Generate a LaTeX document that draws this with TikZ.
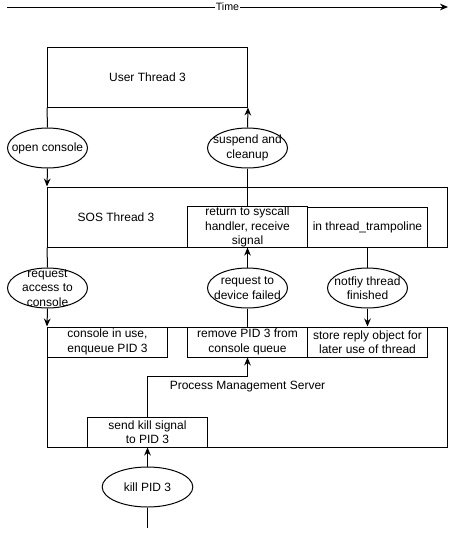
\documentclass[tikz,border=0pt]{standalone}
\usepackage{fontspec}
\setmainfont{Liberation Sans}
\usetikzlibrary{
    shapes.geometric,
    arrows.meta,
    positioning,
}
\tikzset{
    lbl/.style={font=\fontsize{9}{10.9}\selectfont, align=center},
    block/.style={draw, fill=white, line width=0.75pt, inner sep=0pt, lbl},
    bubble/.style={ellipse, draw, fill=white, line width=0.75pt, inner sep=0pt, minimum width=60pt, minimum height=30pt},
    link/.style={line width=0.75pt},
    flow/.style={line width=0.75pt, -{Stealth[length=6pt, width=5pt]}},
}

\begin{document}
\begin{tikzpicture}[x=0.75pt, y=-0.75pt]
        \useasboundingbox (0,0) rectangle (456,536);
        \coordinate (t0) at (7,7);
        \coordinate (t1) at (448,7);
        \draw[flow] (t0) -- node[fill=white, inner sep=1pt, font=\fontsize{8}{9}\selectfont] (time) {Time} (t1);

        \node[block, minimum width=150pt, minimum height=45pt] (ut) at (147.5,77) {User Thread 3};
        \node[block, minimum width=300pt, minimum height=45pt, label={[lbl, xshift=-98.6pt]center:SOS Thread 3}] (sos) at (247.5,217) {};
        \node[block, minimum width=90pt, minimum height=30pt] (rs) at (247.5,227) {return to syscall\\handler, receive\\signal};
        \node[block, minimum width=90pt, minimum height=30pt] (tt) at (367.5,227) {in thread\_trampoline};
        \node[block, minimum width=300pt, minimum height=90pt] (pms) at (247.5,387) {Process Management Server};
        \node[block, minimum width=90pt, minimum height=22.5pt] (ci) at (107.5,342) {console in use,\\enqueue PID 3};
        \node[block, minimum width=90pt, minimum height=22.5pt] (rm) at (247.5,342) {remove PID 3 from\\console queue};
        \node[block, minimum width=90pt, minimum height=22.5pt] (st) at (367.5,342) {store reply object for\\later use of thread};
        \node[block, minimum width=90pt, minimum height=22.5pt] (ks) at (147.5,432) {send kill signal\\to PID 3};

        \node[bubble, label={[lbl]center:open console}] (oc) at (47.5,148) {};
        \node[bubble, label={[lbl]center:suspend and\\cleanup}] (sc) at (247.5,148) {};
        \node[bubble, label={[lbl]center:request\\access to\\console}] (ra) at (47.5,288) {};
        \node[bubble, label={[lbl]center:request to\\device failed}] (rd) at (247.5,288) {};
        \node[bubble, label={[lbl]center:notfiy thread\\finished}] (nf) at (367.5,288) {};
        \node[bubble, minimum width=68pt, label={[lbl]center:kill PID 3}] (kp) at (147.5,487) {};
        \coordinate (src) at (147.5,528);

        \draw[link] (ut.south west) -- (oc.north);
        \draw[flow] (oc.south) -- (sos.north west);
        \draw[link] (rs.north) -- (sc.south);
        \draw[flow] (sc.north) -- (ut.south east);
        \draw[link] (sos.south west) -- (ra.north);
        \draw[flow] (ra.south) -- (pms.north west);
        \draw[link] (rm.north) -- (rd.south);
        \draw[flow] (rd.north) -- (rs.south);
        \draw[link] (tt.south) -- (nf.north);
        \draw[flow] (nf.south) -- (st.north);
        \draw[flow] (ks.north) -- ++(0,-40) -| (rm.south);
        \draw[link] (src) -- (kp.south);
        \draw[flow] (kp.north) -- (ks.south);
    \end{tikzpicture}
\end{document}
